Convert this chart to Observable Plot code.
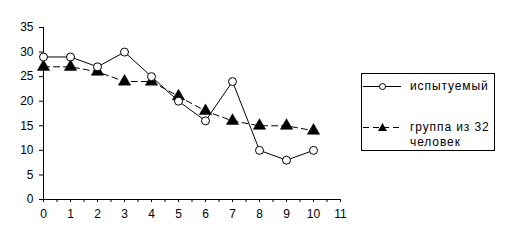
<!DOCTYPE html>
<html>
<head>
<meta charset="utf-8">
<script src="https://cdn.jsdelivr.net/npm/d3@7"></script>
<script src="https://cdn.jsdelivr.net/npm/@observablehq/plot@0.6"></script>
<style>
  html, body { margin: 0; padding: 0; background: #fff; }
  #wrap { position: relative; width: 507px; height: 243px; font-family: "Liberation Sans", Arial, sans-serif; }
  #legend {
    position: absolute; left: 361px; top: 73px; width: 134px; height: 78px;
    border: 1px solid #000; box-sizing: border-box; font-size: 12px; color: #000;
  }
  .item { position: absolute; left: 1px; display: flex; align-items: flex-start; }
  .item svg { display: block; }
  .item span { margin-left: 9px; line-height: 15px; letter-spacing: 0.9px; }
</style>
</head>
<body>
<div id="wrap"></div>
<script>
// Session numbers along the x axis
const sessions = [0, 1, 2, 3, 4, 5, 6, 7, 8, 9, 10];
// Scores of the individual subject
const subject = [29, 29, 27, 30, 25, 20, 16, 24, 10, 8, 10];
// Mean scores of the group of 32 people
const group = [27, 27, 26, 24, 24, 21, 18, 16, 15, 15, 14];
// Axis ticks
const xTicks = [0, 1, 2, 3, 4, 5, 6, 7, 8, 9, 10, 11];
const yTicks = [0, 5, 10, 15, 20, 25, 30, 35];
const seriesNames = ["испытуемый", "группа из 32 человек"];

const subjectRows = sessions.map((s, i) => ({x: s, y: subject[i]}));
const groupRows = sessions.map((s, i) => ({x: s, y: group[i]}));
const halfTicks = d3.range(0, 11.001, 0.5);

const chart = Plot.plot({
  width: 507,
  height: 243,
  marginLeft: 43,
  marginRight: 167,
  marginTop: 27,
  marginBottom: 44,
  style: {fontFamily: "'Liberation Sans', Arial, sans-serif", fontSize: "12px", color: "#000", background: "#fff"},
  x: {domain: [0, 11]},
  y: {domain: [0, 35]},
  marks: [
    Plot.ruleY([0], {stroke: "#000"}),
    Plot.ruleX([0], {y1: 0, y2: 35, stroke: "#000"}),
    Plot.axisX({ticks: halfTicks, tickSize: 3, tickFormat: () => "", label: null, stroke: "#000", strokeOpacity: 1}),
    Plot.axisX({ticks: xTicks, tickSize: 3, tickPadding: 7, label: null, fill: "#000", stroke: "#000", strokeOpacity: 1, fontSize: 12}),
    Plot.axisY({ticks: yTicks, tickSize: 4, tickPadding: 6, label: null, fill: "#000", stroke: "#000", strokeOpacity: 1, fontSize: 12}),
    Plot.line(groupRows, {x: "x", y: "y", stroke: "#000", strokeWidth: 1, strokeDasharray: "6,4"}),
    Plot.line(subjectRows, {x: "x", y: "y", stroke: "#000", strokeWidth: 1}),
    Plot.dot(groupRows, {x: "x", y: "y", symbol: "triangle", r: 4.6, fill: "#000", stroke: "#000", strokeWidth: 0.5}),
    Plot.dot(subjectRows, {x: "x", y: "y", symbol: "circle", r: 4, fill: "#fff", stroke: "#000", strokeWidth: 1})
  ]
});

const wrap = document.getElementById("wrap");
wrap.appendChild(chart);

// Legend box to the right of the plot
const legend = document.createElement("div");
legend.id = "legend";
legend.innerHTML = `
  <div class="item" style="top:5px">
    <svg width="38" height="15"><line x1="0" y1="7.5" x2="38" y2="7.5" stroke="#000"/><circle cx="19.5" cy="7.5" r="3" fill="#fff" stroke="#000"/></svg>
    <span>${seriesNames[0]}</span>
  </div>
  <div class="item" style="top:46px">
    <svg width="38" height="15"><line x1="0" y1="7.5" x2="38" y2="7.5" stroke="#000" stroke-dasharray="6,4"/><path d="M19.5,3 L24,11 L15,11 Z" fill="#000"/></svg>
    <span style="width:90px">${seriesNames[1]}</span>
  </div>`;
wrap.appendChild(legend);
</script>
</body>
</html>
